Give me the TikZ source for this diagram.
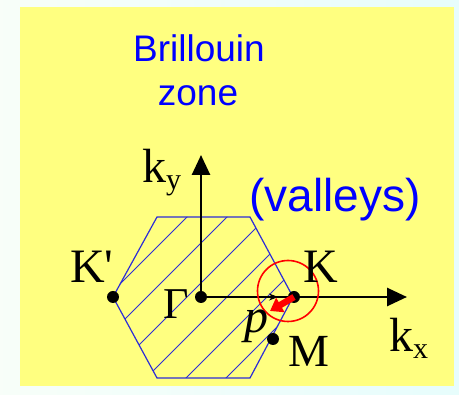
\documentclass[tikz,border=0pt]{standalone}
\usepackage{fontspec}
\setmainfont{Liberation Serif}
\newfontfamily\rawserif{Liberation Serif}
\newfontfamily\arialf{Liberation Sans}
\usetikzlibrary{arrows.meta}
\definecolor{bgc}{RGB}{226,242,240}
\definecolor{yel}{RGB}{255,255,128}
\definecolor{hexblue}{RGB}{45,45,215}
\begin{document}
\begin{tikzpicture}[x=1pt,y=-1pt,
  bluetxt/.style={font=\arialf, text=blue, inner sep=0pt},
  lbl/.style={inner sep=0pt, anchor=base west},
  dot/.style={circle, fill=black, inner sep=0pt, minimum size=12pt},
  axis/.style={line width=2.7pt, -{Triangle[length=20pt,width=18pt]}},
  hexline/.style={draw=hexblue, line width=1.2pt},
  hatch/.style={draw=hexblue, line width=0.9pt}]
\useasboundingbox (0,0) rectangle (459,395);
\shade[left color=bgc!80!green!10, right color=bgc!70!cyan!25] (0,0) rectangle (459,395);
\fill[yel] (20,7) rectangle (454,386);
% texts
\node[bluetxt, anchor=base] (bz1) at (199,62) {\fontsize{37}{40}\selectfont Brillouin};
\node[bluetxt, anchor=base] (bz2) at (198,106) {\fontsize{37}{40}\selectfont zone};
\node[bluetxt, anchor=base] (val) at (335,212) {\fontsize{46}{50}\selectfont (valleys)};
% hexagon
\coordinate (h1) at (157,217);
\coordinate (h2) at (250,217);
\coordinate (h3) at (293,297);
\coordinate (h4) at (250,378);
\coordinate (h5) at (157,378);
\coordinate (h6) at (113,297);
\begin{scope}
\clip (h1) -- (h2) -- (h3) -- (h4) -- (h5) -- (h6) -- cycle;
\foreach \c in {404,444,...,644}{
  \draw[hatch] (\c-420,420) -- (\c-100,100);
}
\end{scope}
\draw[hexline] (h1) -- (h2) -- (h3) -- (h4) -- (h5) -- (h6) -- cycle;
% points
\coordinate (G) at (201,297);
\coordinate (Kp) at (294,297);
\coordinate (kxend) at (407,297);
\coordinate (kyend) at (201,155);
\coordinate (small) at (278,297);
\draw[axis] (G) -- (kxend);
\draw[axis] (G) -- (kyend);
\draw[line width=0.8pt, -{Stealth[length=9pt,width=7pt]}] (G) -- (small);
\node[dot] (Gd) at (G) {};
\node[dot] (Kd) at (Kp) {};
\node[dot] (Kpd) at (113,297) {};
\node[dot] (Md) at (273,339) {};
% red circle and arrow
\node[draw=red, line width=1.6pt, circle, minimum size=61pt, inner sep=0pt] (rc) at (288,291) {};
\coordinate (ptip) at (270,311);
\draw[red, line width=6.5pt, -{Triangle[length=12pt,width=16pt]}] (Kd.center) -- (ptip);
% labels
\node[lbl] (lky) at (142,183) {\fontsize{48}{50}\selectfont k\raisebox{-7pt}{\fontsize{30}{32}\selectfont y}};
\node[lbl] (lkx) at (389,352) {\fontsize{48}{50}\selectfont k\raisebox{-7pt}{\fontsize{30}{32}\selectfont x}};
\node[lbl] (lKp) at (70,283) {\rawserif\fontsize{48}{50}\selectfont K'};
\node[lbl] (lG) at (163,319) {\fontsize{44}{50}\selectfont Γ};
\node[lbl] (lK) at (303,283) {\fontsize{48}{50}\selectfont K};
\node[lbl] (lp) at (244,333) {\fontsize{48}{50}\selectfont\itshape p};
\node[lbl] (lM) at (288,367) {\fontsize{46}{50}\selectfont M};
\end{tikzpicture}
\end{document}
